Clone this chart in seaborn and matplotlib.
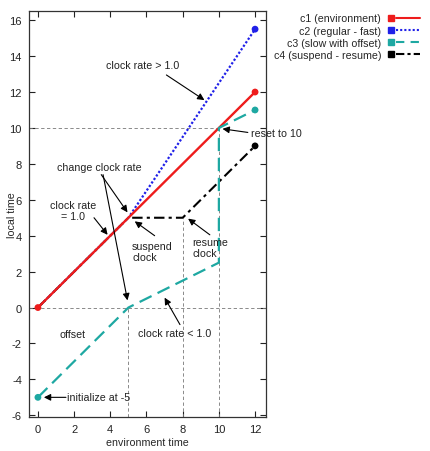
import numpy as np
import matplotlib
matplotlib.use("Agg")
import matplotlib.pyplot as plt
from matplotlib.legend_handler import HandlerLine2D
from matplotlib.lines import Line2D
import seaborn as sns

# %% data
c1_x = [0, 12]
c1_y = [0, 12]
c2_x = [0, 5, 12]
c2_y = [0, 5, 15.5]
c3_x = [0, 5, 10, 10, 12]
c3_y = [-5, 0, 2.5, 10, 11]
c4_x = [0, 5, 8, 12]
c4_y = [0, 5, 5, 9]

labels = ["c1 (environment)", "c2 (regular - fast)",
          "c3 (slow with offset)", "c4 (suspend - resume)"]
colors = ["#ee1c1c", "#2020e8", "#1ea8a2", "#000000"]

x_ticks = [0, 2, 4, 6, 8, 10, 12]
y_ticks = [-6, -4, -2, 0, 2, 4, 6, 8, 10, 12, 14, 16]

# guide lines: (x0, x1, y0, y1)
guides = [(-0.5, 12.6, 0, 0), (-0.5, 10, 10, 10),
          (5, 5, -6.1, 0), (8, 8, -6.1, 5), (10, 10, -6.1, 10)]

# arrows: (tail, head)
arrows = [((7.1, 12.95), (9.2, 11.55)),
          ((11.6, 9.75), (10.2, 9.95)),
          ((3.5, 7.4), (4.95, 5.3)),
          ((3.6, 7.4), (4.95, 0.4)),
          ((3.1, 5.0), (3.85, 4.05)),
          ((6.45, 4.0), (5.35, 4.8)),
          ((9.5, 4.05), (8.3, 4.95)),
          ((7.85, -0.95), (7.0, 0.55)),
          ((1.55, -5.0), (0.33, -5.0))]

# texts: (x, y, text, ha)
notes = [(5.8, 13.5, "clock rate > 1.0", "center"),
         (11.75, 9.7, "reset to 10", "left"),
         (3.4, 7.85, "change clock rate", "center"),
         (1.95, 5.4, "clock rate\n= 1.0", "center"),
         (5.2, 3.1, "suspend\nclock", "left"),
         (8.55, 3.35, "resume\nclock", "left"),
         (1.9, -1.5, "offset", "center"),
         (7.55, -1.4, "clock rate < 1.0", "center"),
         (1.6, -5.0, "initialize at -5", "left")]

# %% style
sns.set_theme(style="ticks")
plt.rcParams["font.family"] = ["Liberation Sans", "DejaVu Sans"]
plt.rcParams["axes.unicode_minus"] = False
fs = 7.7

fig = plt.figure(figsize=(4.31, 4.52), dpi=100)
ax = fig.add_axes([0.067, 0.075, 0.55, 0.898])

for x0, x1, y0, y1 in guides:
    ax.plot([x0, x1], [y0, y1], color="#777777", lw=0.6, ls=(0, (4, 3)), zorder=1)

sns.lineplot(x=c2_x, y=c2_y, sort=False, estimator=None, ax=ax, color=colors[1],
             lw=1.6, linestyle=(0, (1, 0.9)), zorder=2)
sns.lineplot(x=c4_x, y=c4_y, sort=False, estimator=None, ax=ax, color=colors[3],
             lw=1.5, linestyle=(0, (5, 2, 1.5, 2)), zorder=2)
sns.lineplot(x=c1_x, y=c1_y, sort=False, estimator=None, ax=ax, color=colors[0],
             lw=1.7, zorder=3)
sns.lineplot(x=c3_x, y=c3_y, sort=False, estimator=None, ax=ax, color=colors[2],
             lw=1.6, linestyle=(0, (6, 3)), zorder=4)

# end point markers
ends_x = [c1_x[0], c1_x[-1], c2_x[-1], c3_x[0], c3_x[-1], c4_x[-1]]
ends_y = [c1_y[0], c1_y[-1], c2_y[-1], c3_y[0], c3_y[-1], c4_y[-1]]
ends_c = [colors[0], colors[0], colors[1], colors[2], colors[2], colors[3]]
sns.scatterplot(x=ends_x, y=ends_y, c=ends_c, s=24, linewidth=0, ax=ax, zorder=5)

for (tx, ty), (hx, hy) in arrows:
    ax.annotate("", xy=(hx, hy), xytext=(tx, ty),
                arrowprops=dict(arrowstyle="-|>", color="black", lw=0.8,
                                mutation_scale=10, shrinkA=0, shrinkB=0),
                zorder=6)
for x, y, s, ha in notes:
    ax.text(x, y, s, ha=ha, va="center", fontsize=fs, color="#222222",
            linespacing=1.1, zorder=6)

ax.set_xlim(-0.5, 12.6)
ax.set_ylim(-6.1, 16.5)
ax.set_xticks(x_ticks)
ax.set_yticks(y_ticks)
ax.tick_params(direction="in", length=4, width=0.8, top=True, right=True,
               labelsize=fs + 0.3, colors="#222222")
ax.tick_params(axis="x", pad=5)
ax.tick_params(axis="y", pad=5)
for sp in ax.spines.values():
    sp.set_color("#333333")
    sp.set_linewidth(0.9)
ax.set_xlabel("environment time", fontsize=fs, labelpad=2)
ax.set_ylabel("local time", fontsize=fs)
ax.yaxis.set_label_coords(-0.052, 0.5)


# legend: marker square on the left, line on the right
class MarkLeft(HandlerLine2D):
    def create_artists(self, legend, orig_handle, xdescent, ydescent,
                       width, height, fontsize, trans):
        y = height / 2 - ydescent
        ln = Line2D([-xdescent + width * 0.24, -xdescent + width], [y, y])
        self.update_prop(ln, orig_handle, legend)
        ln.set_marker("")
        ln.set_transform(trans)
        mk = Line2D([-xdescent + width * 0.06], [y], marker="s", markersize=4.2,
                    color=orig_handle.get_color(), linestyle="")
        mk.set_transform(trans)
        return [ln, mk]


styles = ["-", (0, (1, 1)), (0, (4, 3)), (0, (4, 1.5, 1.5, 1.5))]
handles = [Line2D([], [], color=c, lw=1.5, linestyle=s) for c, s in zip(colors, styles)]
leg = fig.legend(handles, labels, loc="upper right", bbox_to_anchor=(0.987, 0.98),
                 frameon=False, markerfirst=False, fontsize=fs, handlelength=2.9,
                 handletextpad=0.75, labelspacing=0.2, borderpad=0,
                 handler_map={Line2D: MarkLeft()})
for col in leg._legend_handle_box.get_children():
    col.align = "right"

fig.savefig("out.png", dpi=100)
